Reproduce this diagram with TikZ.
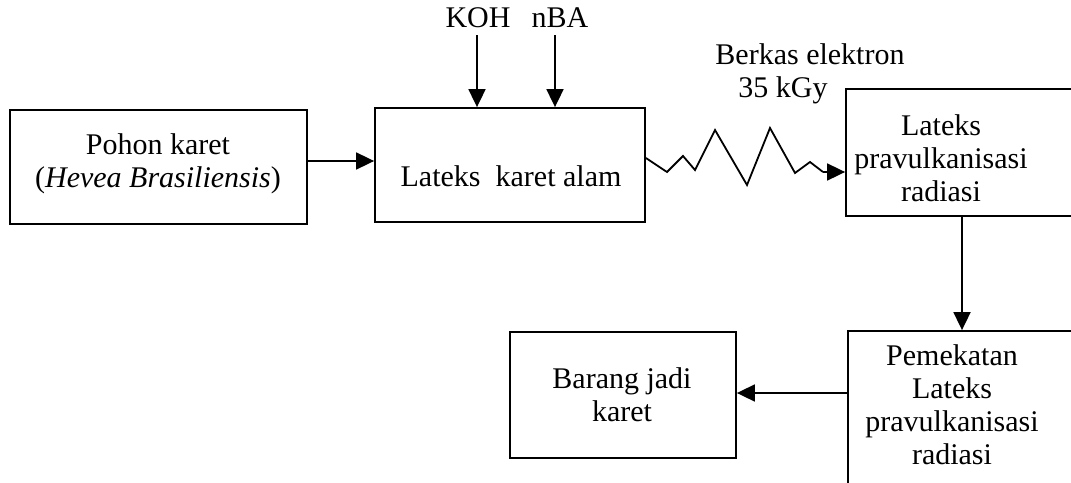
\documentclass[tikz,border=0pt]{standalone}
\usepackage{fontspec}
\setmainfont{Liberation Serif}
\usetikzlibrary{arrows.meta}
\begin{document}
\begin{tikzpicture}[x=1pt,y=-1pt,
  box/.style={draw, line width=1.8pt, minimum width=#1, inner sep=0pt},
  lbl/.style={font=\fontsize{30}{33}\selectfont, align=center, inner sep=0pt},
  arr/.style={line width=1.8pt, -{Triangle[length=18pt,width=17pt]}},
  ln/.style={line width=1.8pt}]
\useasboundingbox (0,0) rectangle (1071,482);
\clip (0,0) rectangle (1071,482);
\fill[white] (0,0) rectangle (1071,482);
% boxes
\node[box=297pt, minimum height=114pt] (A) at (158.5,167) {};
\node[box=270pt, minimum height=114pt] (B) at (510,165) {};
\node[box=244pt, minimum height=127pt] (C) at (968,152.5) {};
\node[box=244pt, minimum height=170pt] (D) at (970,416) {};
\node[box=226pt, minimum height=126pt] (E) at (623,395) {};
% texts
\node[lbl] (At) at (158,164) {Pohon karet\\(\textit{Hevea Brasiliensis})};
\node[lbl] (Bt) at (511,176) {Lateks~~karet alam};
\node[lbl] (Ct) at (941,158) {Lateks\\pravulkanisasi\\radiasi};
\node[lbl] (Dt) at (952,405) {Pemekatan\\Lateks\\pravulkanisasi\\radiasi};
\node[lbl] (Et) at (622,395) {Barang jadi\\karet};
\node[lbl] (koh) at (478,18) {KOH};
\node[lbl] (nba) at (560,18) {nBA};
\node[lbl] (be) at (810,74) {Berkas elektron\\\hspace*{-1.8em}35 kGy};
% connectors
\draw[arr] ([yshift=6pt]A.east) -- ([yshift=6pt]A.east -| B.west);
\coordinate (k0) at (477,35);
\coordinate (n0) at (555,35);
\draw[arr] (k0) -- (k0 |- B.north);
\draw[arr] (n0) -- (n0 |- B.north);
\coordinate (z0) at ([yshift=7pt]B.east);
\draw[ln] (z0) -- (667,172) -- (683,156) -- (695,170) -- (715,130) -- (747,185) -- (770,128) -- (795,173) -- (810,162) -- (823,172);
\draw[arr] (823,172) -- (823,172 -| C.west);
\draw[arr] (962,216) coordinate (c0) -- (c0 |- D.north);
\draw[arr] (D.west |- 0,393) -- (E.east |- 0,393);
\end{tikzpicture}
\end{document}
